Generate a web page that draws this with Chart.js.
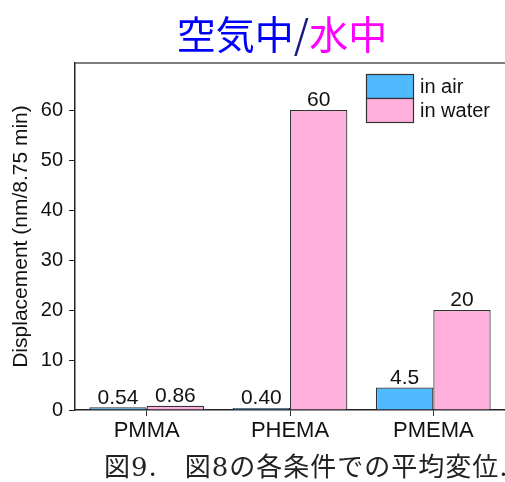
<!DOCTYPE html>
<html lang="ja">
<head>
<meta charset="UTF-8">
<title>Displacement</title>
<script src="https://cdn.jsdelivr.net/npm/chart.js"></script>
<style>
  html, body { margin: 0; padding: 0; background: #fff; }
  #wrap { position: relative; width: 505px; height: 482px; overflow: hidden; }
  #title { position: absolute; left: 0; width: 564px; top: 6px; text-align: center;
           font-family: "Noto Sans CJK JP", sans-serif; font-weight: 400; font-size: 39px; line-height: 52px; }
  #caption { position: absolute; left: 104px; top: 446px; white-space: nowrap; letter-spacing: 1px;
             font-family: "DejaVu Serif", "Noto Sans CJK JP", serif; font-size: 26px; color: #222; }
  canvas { position: absolute; left: 0; top: 0; }
</style>
</head>
<body>
<div id="wrap">
  <canvas id="myChart" width="505" height="482"></canvas>
  <div id="title"><span style="color:#0000ff">空気中</span><span style="color:#1a1a80">/</span><span style="color:#ff00ff">水中</span></div>
  <div id="caption">図9.　図8の各条件での平均変位.</div>
</div>
<script>
  // data
  const categories = ['PMMA', 'PHEMA', 'PMEMA'];
  const airValues = [0.54, 0.40, 4.5];
  const waterValues = [0.86, 60, 20];
  const airLabels = ['0.54', '0.40', '4.5'];
  const waterLabels = ['0.86', '60', '20'];
  const yTicks = [0, 10, 20, 30, 40, 50, 60];

  const font = 'Liberation Sans, Arial, sans-serif';

  // value labels above each bar
  const valueLabels = {
    id: 'valueLabels',
    afterDatasetsDraw(chart) {
      const ctx = chart.ctx;
      ctx.save();
      ctx.font = '21px ' + font;
      ctx.fillStyle = '#111';
      ctx.textAlign = 'center';
      ctx.textBaseline = 'bottom';
      chart.data.datasets.forEach((ds, i) => {
        chart.getDatasetMeta(i).data.forEach((bar, j) => {
          ctx.fillText(ds.valueText[j], bar.x, bar.y + 1);
        });
      });
      ctx.restore();
    }
  };

  // legend inside the plot, top right
  const innerLegend = {
    id: 'innerLegend',
    afterDraw(chart) {
      const ctx = chart.ctx;
      const x0 = 366, y0 = 74, w = 47, h = 24;
      ctx.save();
      ctx.font = '20px ' + font;
      ctx.textBaseline = 'middle';
      chart.data.datasets.forEach((ds, i) => {
        const y = y0 + i * h;
        ctx.fillStyle = ds.backgroundColor;
        ctx.fillRect(x0, y, w, h);
        ctx.strokeStyle = '#333';
        ctx.lineWidth = 1.2;
        ctx.strokeRect(x0 + 0.5, y + 0.5, w, h);
        ctx.fillStyle = '#111';
        ctx.fillText(ds.label, x0 + w + 7, y + h / 2 + 1);
      });
      ctx.restore();
    }
  };

  // top frame line
  const frame = {
    id: 'frame',
    beforeDatasetsDraw(chart) {
      const a = chart.chartArea, ctx = chart.ctx;
      ctx.save();
      ctx.strokeStyle = '#555';
      ctx.lineWidth = 1.5;
      ctx.beginPath();
      ctx.moveTo(a.left, a.top);
      ctx.lineTo(a.right + 10, a.top);
      ctx.stroke();
      ctx.restore();
    }
  };

  const ctx = document.getElementById('myChart').getContext('2d');
  new Chart(ctx, {
    type: 'bar',
    data: {
      labels: categories,
      datasets: [
        { label: 'in air', data: airValues, valueText: airLabels,
          backgroundColor: '#4fbaff', borderColor: '#333', borderWidth: 1.2,
          categoryPercentage: 0.8, barPercentage: 1.0 },
        { label: 'in water', data: waterValues, valueText: waterLabels,
          backgroundColor: '#ffb0dc', borderColor: '#333', borderWidth: 1.2,
          categoryPercentage: 0.8, barPercentage: 1.0 }
      ]
    },
    options: {
      responsive: false,
      animation: false,
      layout: { padding: { left: 9, right: 0, top: 63, bottom: 0 } },
      plugins: { legend: { display: false }, tooltip: { enabled: false } },
      scales: {
        x: {
          grid: { offset: false, drawOnChartArea: false, drawTicks: true, tickLength: 6, color: '#333' },
          border: { color: '#222', width: 1.5 },
          ticks: { color: '#111', font: { family: font, size: 22 }, padding: 2 },
          afterFit(s) { s.height = 72; }
        },
        y: {
          min: 0, max: 69.4,
          grid: { drawOnChartArea: false, tickLength: 6, color: '#222' },
          border: { color: '#222', width: 1.5 },
          ticks: { stepSize: 10, includeBounds: false, color: '#111', font: { family: font, size: 20 }, padding: 6 },
          title: { display: true, text: 'Displacement (nm/8.75 min)', color: '#111',
                   font: { family: font, size: 21 }, padding: 0 },
          afterFit(s) { s.width = 66; },
          afterBuildTicks(s) { s.ticks = yTicks.map(v => ({ value: v })); }
        }
      }
    },
    plugins: [valueLabels, innerLegend, frame]
  });
</script>
</body>
</html>
